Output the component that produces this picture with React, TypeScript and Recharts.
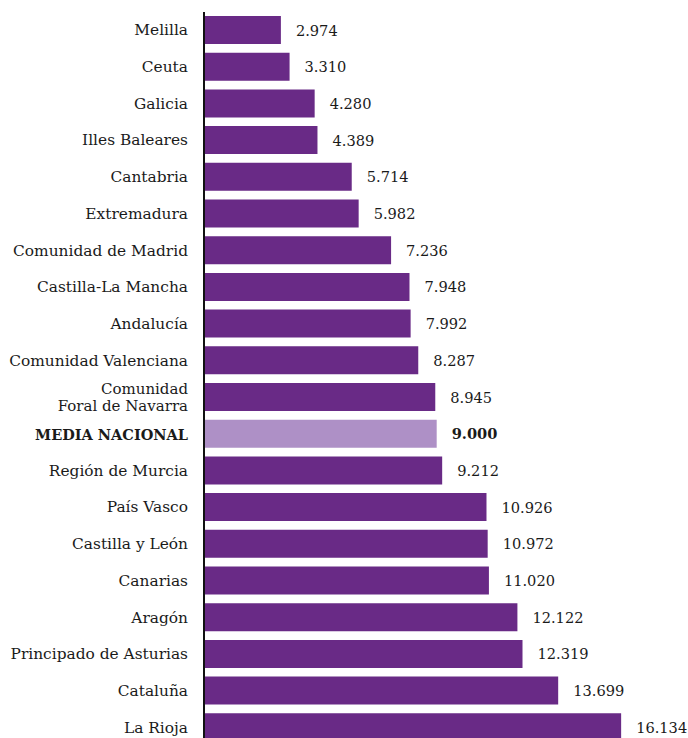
import React from "react";
import { BarChart, Bar, XAxis, YAxis, Cell, LabelList } from "recharts";

const regions = [
  "Melilla",
  "Ceuta",
  "Galicia",
  "Illes Baleares",
  "Cantabria",
  "Extremadura",
  "Comunidad de Madrid",
  "Castilla-La Mancha",
  "Andalucía",
  "Comunidad Valenciana",
  "Comunidad\nForal de Navarra",
  "MEDIA NACIONAL",
  "Región de Murcia",
  "País Vasco",
  "Castilla y León",
  "Canarias",
  "Aragón",
  "Principado de Asturias",
  "Cataluña",
  "La Rioja",
];

const values = [
  2974, 3310, 4280, 4389, 5714, 5982, 7236, 7948, 7992, 8287, 8945, 9000, 9212,
  10926, 10972, 11020, 12122, 12319, 13699, 16134,
];

const highlight = "MEDIA NACIONAL";

const data = regions.map((r, i) => ({ region: r, value: values[i] }));

const fmt = (v: number) => {
  const s = String(Math.round(v));
  return s.replace(/\B(?=(\d{3})+(?!\d))/g, ".");
};

const FONT = "'DejaVu Serif', serif";

const RegionTick = (props: any) => {
  const { x, y, payload } = props;
  const lines = String(payload.value).split("\n");
  const bold = payload.value === highlight;
  const lh = 17;
  const start = -((lines.length - 1) * lh) / 2;
  return (
    <text
      x={x}
      y={y}
      textAnchor="end"
      fontFamily={FONT}
      fontSize={bold ? 14.5 : lines.length > 1 ? 15 : 15.4}
      fontWeight={bold ? "bold" : "normal"}
      fill="#1a1a1a"
    >
      {lines.map((l, i) => (
        <tspan key={i} x={x} y={y + start + i * lh} dominantBaseline="central">
          {l}
        </tspan>
      ))}
    </text>
  );
};

const ValueLabel = (props: any) => {
  const { x, y, width, height, value, index } = props;
  const bold = regions[index] === highlight;
  return (
    <text
      x={x + width + 15}
      y={y + height / 2}
      dominantBaseline="central"
      fontFamily={FONT}
      fontSize={14.6}
      fontWeight={bold ? "bold" : "normal"}
      fill="#1a1a1a"
    >
      {fmt(value)}
    </text>
  );
};

export default function App() {
  return (
    <div style={{ width: 688, height: 738, overflow: "hidden", background: "#fff" }}>
      <style>{"body{margin:0}"}</style>
      <BarChart
        width={688}
        height={750}
        data={data}
        layout="vertical"
        margin={{ top: 12, right: 0, bottom: 4, left: 0 }}
      >
        <XAxis type="number" domain={[0, 18720]} hide />
        <YAxis
          type="category"
          dataKey="region"
          width={204}
          tickLine={false}
          tickSize={0}
          tickMargin={16}
          axisLine={{ stroke: "#111", strokeWidth: 2 }}
          tick={<RegionTick />}
          interval={0}
        />
        <Bar dataKey="value" barSize={28} isAnimationActive={false}>
          {data.map((d, i) => (
            <Cell key={i} fill={d.region === highlight ? "#ae90c6" : "#692a86"} />
          ))}
          <LabelList dataKey="value" content={<ValueLabel />} />
        </Bar>
      </BarChart>
    </div>
  );
}
